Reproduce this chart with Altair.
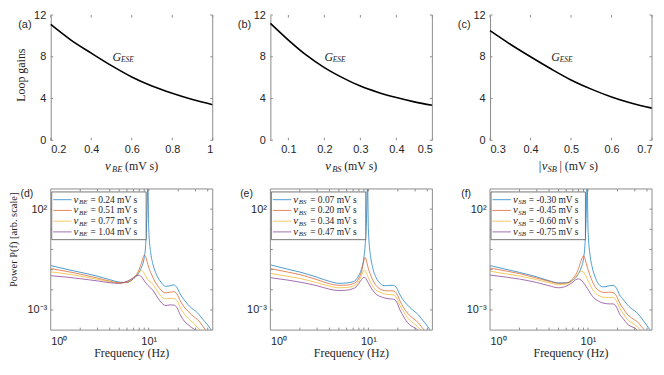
import altair as alt
import pandas as pd

# ---------------- data ----------------
# top row: loop gain G_ESE versus coupling strength
nu_be = [0.2, 0.3, 0.4, 0.5, 0.6, 0.7, 0.8, 0.9, 1.0]
gain_be = [11.1, 9.6, 8.35, 7.15, 6.07, 5.2, 4.5, 3.9, 3.41]
nu_bs = [0.05, 0.1, 0.15, 0.2, 0.25, 0.3, 0.35, 0.4, 0.45, 0.5]
gain_bs = [11.2, 9.6, 8.15, 6.96, 6.0, 5.19, 4.58, 4.09, 3.68, 3.35]
nu_sb = [0.3, 0.35, 0.4, 0.45, 0.5, 0.55, 0.6, 0.65, 0.7]
gain_sb = [10.5, 9.2, 8.0, 6.85, 5.78, 4.9, 4.15, 3.55, 3.08]

# bottom row: power spectra, log10 of power at each frequency (Hz)
freqs = [1, 1.5, 2, 3, 4, 5, 6, 7, 7.5, 8, 8.5, 9, 9.3, 9.6, 9.8, 10, 10.5, 11, 12, 13,
         14, 15, 16.5, 18, 19.5, 21, 23, 25, 27.5, 30, 32.5, 35, 40, 45]

d_blue = [-0.80, -1.00, -1.13, -1.33, -1.50, -1.62, -1.64, -1.45, -1.32, -1.12, -0.85, -0.40, 0.2, 1.8, 3.5, 1.0, -0.2, -0.70, -1.25, -1.55,
          -1.75, -1.83, -1.80, -1.76, -1.90, -2.22, -2.50, -2.72, -2.92, -3.05, -3.22, -3.42, -3.75, -4.10]
d_orange = [-0.95, -1.10, -1.22, -1.42, -1.57, -1.65, -1.62, -1.42, -1.25, -0.98, -0.62, -0.28, -0.35, -0.60, -0.75, -0.90, -1.15, -1.38, -1.72, -1.95,
            -2.10, -2.15, -2.12, -2.10, -2.22, -2.55, -2.85, -3.05, -3.25, -3.40, -3.55, -3.75, -4.15, -4.5]
d_yellow = [-1.11, -1.22, -1.32, -1.48, -1.60, -1.67, -1.62, -1.40, -1.25, -1.08, -1.05, -1.18, -1.30, -1.42, -1.50, -1.55, -1.62, -1.72, -2.00, -2.25,
            -2.40, -2.45, -2.43, -2.43, -2.55, -2.90, -3.20, -3.40, -3.58, -3.75, -3.95, -4.10, -4.5, -4.9]
d_purple = [-1.30, -1.38, -1.45, -1.56, -1.65, -1.68, -1.58, -1.40, -1.30, -1.28, -1.38, -1.55, -1.65, -1.73, -1.78, -1.82, -1.92, -2.02, -2.30, -2.55,
            -2.72, -2.78, -2.75, -2.76, -2.90, -3.25, -3.55, -3.72, -3.88, -4.00, -4.15, -4.30, -4.70, -5.0]

e_blue = [-0.76, -0.98, -1.12, -1.38, -1.58, -1.68, -1.66, -1.60, -1.50, -1.28, -0.98, -0.40, 0.3, 1.8, 3.5, 1.0, -0.3, -0.85, -1.40, -1.65,
          -1.78, -1.80, -1.78, -1.78, -1.92, -2.25, -2.55, -2.75, -2.95, -3.10, -3.25, -3.45, -3.80, -4.15]
e_orange = [-0.95, -1.12, -1.25, -1.50, -1.70, -1.78, -1.77, -1.70, -1.62, -1.42, -1.12, -0.55, -0.40, -0.60, -0.78, -0.95, -1.25, -1.48, -1.80, -1.95,
            -2.02, -2.05, -2.05, -2.06, -2.20, -2.55, -2.90, -3.15, -3.35, -3.50, -3.65, -3.85, -4.20, -4.6]
e_yellow = [-1.19, -1.33, -1.44, -1.65, -1.82, -1.90, -1.89, -1.82, -1.74, -1.55, -1.30, -1.05, -1.05, -1.20, -1.30, -1.40, -1.62, -1.80, -2.02, -2.12,
            -2.18, -2.22, -2.24, -2.25, -2.42, -2.78, -3.10, -3.38, -3.58, -3.72, -3.88, -4.05, -4.45, -4.85]
e_purple = [-1.40, -1.52, -1.62, -1.80, -1.97, -2.04, -2.02, -1.94, -1.86, -1.68, -1.50, -1.38, -1.40, -1.50, -1.58, -1.66, -1.85, -2.00, -2.22, -2.32,
            -2.38, -2.42, -2.45, -2.46, -2.62, -3.00, -3.35, -3.62, -3.80, -3.90, -4.05, -4.25, -4.65, -5.0]

f_blue = [-0.80, -1.00, -1.14, -1.36, -1.55, -1.66, -1.66, -1.52, -1.40, -1.20, -0.92, -0.45, 0.2, 1.8, 3.5, 1.0, -0.3, -0.85, -1.45, -1.75,
          -1.85, -1.85, -1.80, -1.78, -1.92, -2.25, -2.50, -2.72, -2.92, -3.05, -3.20, -3.40, -3.78, -4.15]
f_orange = [-0.92, -1.08, -1.20, -1.42, -1.58, -1.68, -1.66, -1.45, -1.25, -0.95, -0.55, -0.32, -0.45, -0.70, -0.85, -1.00, -1.30, -1.55, -1.90, -2.05,
            -2.12, -2.14, -2.12, -2.14, -2.30, -2.65, -2.95, -3.20, -3.38, -3.50, -3.62, -3.82, -4.15, -4.55]
f_yellow = [-1.08, -1.22, -1.32, -1.50, -1.65, -1.75, -1.72, -1.52, -1.35, -1.18, -1.08, -1.12, -1.22, -1.35, -1.45, -1.55, -1.75, -1.95, -2.18, -2.30,
            -2.36, -2.38, -2.38, -2.38, -2.55, -2.90, -3.20, -3.45, -3.62, -3.72, -3.88, -4.05, -4.45, -4.85]
f_purple = [-1.27, -1.38, -1.47, -1.64, -1.80, -1.90, -1.82, -1.62, -1.50, -1.46, -1.52, -1.65, -1.75, -1.85, -1.92, -1.98, -2.15, -2.30, -2.48, -2.58,
            -2.65, -2.68, -2.70, -2.70, -2.85, -3.20, -3.45, -3.68, -3.82, -3.90, -4.05, -4.25, -4.65, -5.0]

d_labels = ["= 0.24 mV s", "= 0.51 mV s", "= 0.77 mV s", "= 1.04 mV s"]
e_labels = ["= 0.07 mV s", "= 0.20 mV s", "= 0.34 mV s", "= 0.47 mV s"]
f_labels = ["= -0.30 mV s", "= -0.45 mV s", "= -0.60 mV s", "= -0.75 mV s"]

# ---------------- style ----------------
W = 163
HT = 126
HB = 142
GRAY = "#8c8c8c"
TXT = "#262626"
COLORS = ["#0072BD", "#D95319", "#EDB120", "#7E2F8E"]
SER = ["s0", "s1", "s2", "s3"]
SERIF = "Liberation Serif"
SANS = "Liberation Sans"
TL = 2.5  # tick length


def one():
    return pd.DataFrame({"a": [0]})


def txt(s, x, y, size, font=SERIF, style="normal", align="left", angle=0, color=TXT):
    return alt.Chart(pd.DataFrame({"t": [s]})).mark_text(
        font=font, fontSize=size, fontStyle=style, align=align, baseline="middle",
        angle=angle, color=color
    ).encode(text="t:N", x=alt.value(x), y=alt.value(y))


def vrule(x, y0, y1, color=GRAY, sw=1):
    return alt.Chart(one()).mark_rule(color=color, strokeWidth=sw).encode(
        x=alt.value(x), y=alt.value(y0), y2=alt.value(y1))


def composite_title(pre, sub, post, x0, y, w_pre, w_sub):
    return [
        txt(pre, x0, y, 13, style="italic"),
        txt(sub, x0 + w_pre, y + 3, 8.5, style="italic"),
        txt(post, x0 + w_pre + w_sub + 2, y, 12),
    ]


def top_panel(xs, gs, xdom, xticks, gx, letter, pre, sub, post, w_pre, w_sub, ytitle):
    df = pd.DataFrame({"x": xs, "g": gs})
    xsc = alt.Scale(domain=xdom, nice=False, zero=False)
    ysc = alt.Scale(domain=[0, 12], nice=False)
    xaxis = alt.Axis(values=xticks, format="~g", title=None, domain=False, ticks=False,
                     grid=False, labelPadding=3)
    yaxis = alt.Axis(values=[0, 4, 8, 12], title=None, domain=True, domainColor=GRAY,
                     domainWidth=1, ticks=False, grid=False, labelPadding=5)
    X = lambda: alt.X("x:Q", scale=xsc, axis=xaxis)
    Y = lambda: alt.Y("g:Q", scale=ysc, axis=yaxis)
    line = alt.Chart(df).mark_line(color="black", strokeWidth=1.6, interpolate="monotone").encode(
        x=X(), y=Y())
    xt = pd.DataFrame({"x": xticks})
    yt = pd.DataFrame({"g": [0, 4, 8, 12]})
    layers = [
        line,
        vrule(W, 0, HT),
        alt.Chart(xt).mark_rule(color=GRAY).encode(x=X(), y=alt.value(HT), y2=alt.value(HT - TL)),
        alt.Chart(xt).mark_rule(color=GRAY).encode(x=X(), y=alt.value(0), y2=alt.value(TL)),
        alt.Chart(yt).mark_rule(color=GRAY).encode(y=Y(), x=alt.value(0), x2=alt.value(TL)),
        alt.Chart(yt).mark_rule(color=GRAY).encode(y=Y(), x=alt.value(W), x2=alt.value(W - TL)),
    ]
    gdf = pd.DataFrame({"x": [gx], "g": [8.0]})
    layers.append(alt.Chart(gdf).mark_text(font=SERIF, fontStyle="italic", fontSize=12,
                                           align="left", baseline="middle", color=TXT).encode(
        x=X(), y=Y(), text=alt.value("G")))
    layers.append(alt.Chart(gdf).mark_text(font=SERIF, fontStyle="italic", fontSize=7.5,
                                           align="left", baseline="middle", dx=8.5, dy=3, color=TXT).encode(
        x=X(), y=Y(), text=alt.value("ESE")))
    layers.append(txt(letter, -26, 10, 11, font=SANS, align="center"))
    total = w_pre + w_sub + 2 + len(post) * 5.6
    x0 = W / 2 - total / 2
    layers += composite_title(pre, sub, post, x0, HT + 26, w_pre, w_sub)
    if ytitle:
        layers.append(txt("Loop gains", -30, HT * 0.48, 12, align="center", angle=270))
    return alt.layer(*layers).properties(width=W, height=HT)


def bottom_panel(series, labels, sub, letter, ytitle, eq_x):
    rows = []
    for name, vals in zip(SER, series):
        for f, lp in zip(freqs, vals):
            rows.append({"f": f, "P": 10 ** lp, "s": name})
    df = pd.DataFrame(rows)
    xsc = alt.Scale(type="log", domain=[1, 45], nice=False)
    ysc = alt.Scale(type="log", domain=[1e-4, 1e3], nice=False)
    xaxis = alt.Axis(values=[1, 10], labelExpr="datum.value < 5 ? '10⁰' : '10¹'", title=None,
                     domain=False, ticks=False, grid=False, labelPadding=5)
    yaxis = alt.Axis(values=[0.001, 100], labelExpr="datum.value > 1 ? '10²' : '10⁻³'", title=None,
                     domain=False, ticks=False, grid=False, labelPadding=4)
    X = lambda: alt.X("f:Q", scale=xsc, axis=xaxis)
    Y = lambda: alt.Y("P:Q", scale=ysc, axis=yaxis)
    lines = alt.Chart(df).mark_line(clip=True, strokeWidth=1, opacity=0.7, interpolate="monotone").encode(
        x=X(), y=Y(),
        color=alt.Color("s:N", scale=alt.Scale(domain=SER, range=COLORS), legend=None),
        detail="s:N",
    )
    xt = pd.DataFrame({"f": [2, 3, 4, 5, 6, 7, 8, 9, 10, 20, 30, 40]})
    yt = pd.DataFrame({"P": [1e-3, 1e-2, 1e-1, 1, 10, 100]})
    box = alt.Chart(one()).mark_rect(fillOpacity=0, stroke=GRAY, strokeWidth=1).encode(
        x=alt.value(0), x2=alt.value(W), y=alt.value(0), y2=alt.value(HB))
    layers = [
        lines,
        box,
        alt.Chart(xt).mark_rule(color=GRAY).encode(x=X(), y=alt.value(HB), y2=alt.value(HB - TL)),
        alt.Chart(xt).mark_rule(color=GRAY).encode(x=X(), y=alt.value(0), y2=alt.value(TL)),
        alt.Chart(yt).mark_rule(color=GRAY).encode(y=Y(), x=alt.value(0), x2=alt.value(TL)),
        alt.Chart(yt).mark_rule(color=GRAY).encode(y=Y(), x=alt.value(W), x2=alt.value(W - TL)),
    ]
    # legend box
    bx0, bx1, by0, by1 = 1, 96, 3, 51
    layers.append(alt.Chart(one()).mark_rect(fill="white", stroke="#555555", strokeWidth=0.8).encode(
        x=alt.value(bx0), x2=alt.value(bx1), y=alt.value(by0), y2=alt.value(by1)))
    for i, (lab, col) in enumerate(zip(labels, COLORS)):
        yy = 27 + (i - 1.5) * 10.8
        layers.append(alt.Chart(one()).mark_rule(color=col, strokeWidth=1, opacity=0.7).encode(
            x=alt.value(bx0 + 1.5), x2=alt.value(bx0 + 20), y=alt.value(yy)))
        layers.append(txt("ν", bx0 + 22, yy, 11, style="italic"))
        layers.append(txt(sub, bx0 + 27.5, yy + 2.5, 7, style="italic"))
        layers.append(txt(lab, bx0 + eq_x, yy, 9.5))
    layers.append(txt(letter, -24, 5, 10.5, font=SANS, align="center"))
    layers.append(txt("Frequency (Hz)", W / 2, HB + 23, 12, align="center"))
    if ytitle:
        layers.append(txt("Power P(f) [arb. scale]", -37, HB * 0.36, 10.5, align="center", angle=270))
    return alt.layer(*layers).properties(width=W, height=HB)


pa = top_panel(nu_be, gain_be, [0.2, 1.0], [0.2, 0.4, 0.6, 0.8, 1.0], 0.505, "(a)",
               "ν", "BE", "(mV s)", 7, 11, True)
pb = top_panel(nu_bs, gain_bs, [0.05, 0.5], [0.1, 0.2, 0.3, 0.4, 0.5], 0.2, "(b)",
               "ν", "BS", "(mV s)", 7, 10, False)
pc = top_panel(nu_sb, gain_sb, [0.3, 0.7], [0.3, 0.4, 0.5, 0.6, 0.7], 0.451, "(c)",
               "|ν", "SB", "| (mV s)", 9.5, 10, False)

pd_ = bottom_panel([d_blue, d_orange, d_yellow, d_purple], d_labels, "BE", "(d)", True, 39)
pe = bottom_panel([e_blue, e_orange, e_yellow, e_purple], e_labels, "BS", "(e)", False, 39)
pf = bottom_panel([f_blue, f_orange, f_yellow, f_purple], f_labels, "SB", "(f)", False, 38)

chart = alt.concat(pa, pb, pc, pd_, pe, pf, columns=3,
                   spacing={"row": 49, "column": 58}, bounds="flush").properties(
    padding={"left": 0, "top": 0, "right": 0, "bottom": 0}
).configure_view(stroke=None).configure_axis(
    labelFont=SANS, labelFontSize=11, labelColor=TXT
)

chart.save("out.html", embed_options={"renderer": "svg", "actions": False})
